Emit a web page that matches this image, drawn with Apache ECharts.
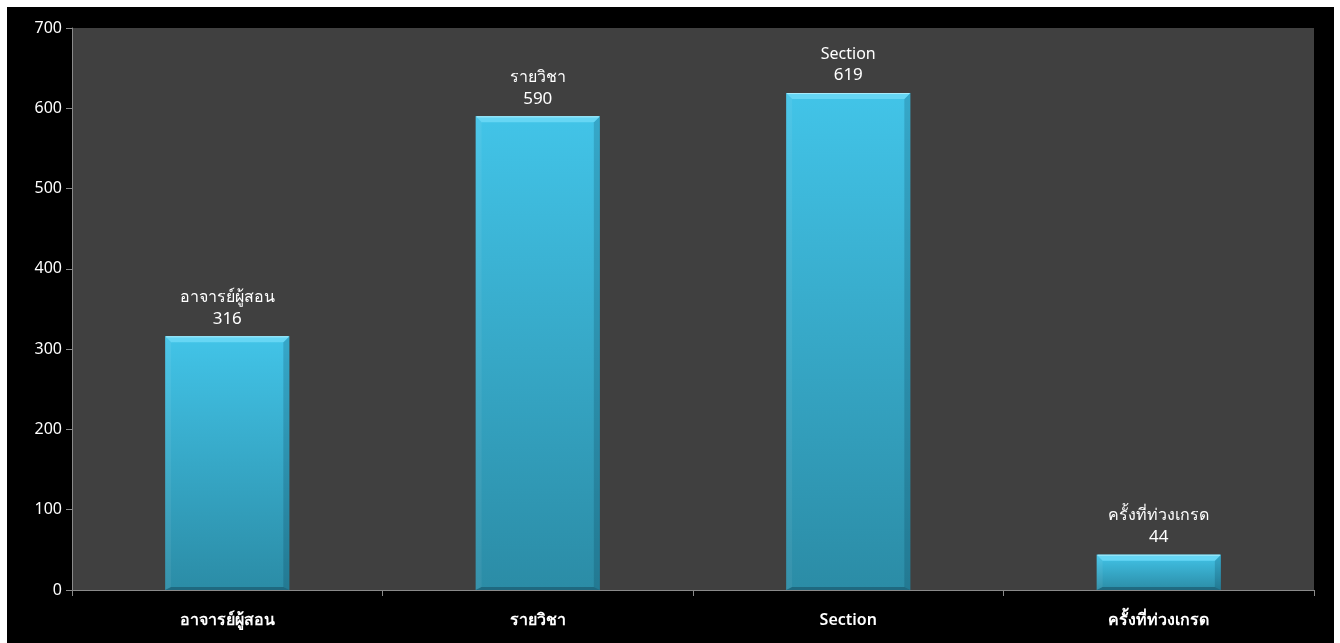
<!DOCTYPE html>
<html><head><meta charset="utf-8">
<script src="https://cdn.jsdelivr.net/npm/echarts@6/dist/echarts.min.js"></script>
<style>
html,body{margin:0;padding:0;background:#fff;width:1340px;height:643px;overflow:hidden}
#c{position:absolute;left:7px;top:7px;width:1327px;height:636px;background:#000}
</style></head><body><div id="c"></div>
<script>
const categories = ['อาจารย์ผู้สอน', 'รายวิชา', 'Section', 'ครั้งที่ท่วงเกรด'];
const values = [316, 590, 619, 44];
const yTicks = [0, 100, 200, 300, 400, 500, 600, 700];

const FONT = '"Noto Sans", "DejaVu Sans", sans-serif';
const chart = echarts.init(document.getElementById('c'));
chart.setOption({
  backgroundColor: '#000',
  animation: false,
  grid: {left: 65, right: 20, top: 21, bottom: 53, show: true, backgroundColor: '#404040', borderWidth: 0},
  xAxis: {
    type: 'category', data: categories,
    axisLine: {lineStyle: {color: '#8a8a8a', width: 1}},
    axisTick: {show: true, length: 6, lineStyle: {color: '#8a8a8a'}},
    axisLabel: {color: '#fff', fontSize: 16, fontFamily: FONT, margin: 22, fontWeight: 600}
  },
  yAxis: {
    type: 'value', min: yTicks[0], max: yTicks[yTicks.length - 1], interval: 100,
    axisLine: {show: true, lineStyle: {color: '#8a8a8a'}},
    axisTick: {show: true, length: 6, lineStyle: {color: '#8a8a8a'}},
    splitLine: {show: false},
    axisLabel: {color: '#fff', fontSize: 16, fontFamily: FONT, margin: 10}
  },
  series: [{
    type: 'custom',
    data: values.map((v, i) => [i, v]),
    renderItem: function (params, api) {
      const i = api.value(0), v = api.value(1);
      const top = api.coord([i, v]);
      const base = api.coord([i, 0]);
      const w = api.size([1, 0])[0] * 0.4;
      const x0 = top[0] - w / 2, x1 = top[0] + w / 2, y0 = top[1], y1 = base[1];
      const b = 6;
      return {
        type: 'group',
        children: [
          {type: 'rect', shape: {x: x0, y: y0, width: w, height: y1 - y0},
            style: {fill: new echarts.graphic.LinearGradient(0, 0, 0, 1, [
              {offset: 0, color: '#42c4e8'}, {offset: 1, color: '#2b8ca6'}])}},
          {type: 'polygon', shape: {points: [[x0, y1], [x0 + b, y1 - 3], [x1 - b, y1 - 3], [x1, y1]]},
            style: {fill: 'rgba(20,70,90,0.5)'}},
          {type: 'polygon', shape: {points: [[x0, y0], [x0 + b, y0 + b], [x0 + b, y1 - 3], [x0, y1]]},
            style: {fill: 'rgba(255,255,255,0.06)'}},
          {type: 'polygon', shape: {points: [[x1, y0], [x1 - b, y0 + b], [x1 - b, y1 - 3], [x1, y1]]},
            style: {fill: 'rgba(0,40,60,0.18)'}},
          {type: 'polygon', shape: {points: [[x0, y0], [x1, y0], [x1 - b, y0 + b], [x0 + b, y0 + b]]},
            style: {fill: '#66d6f4'}},
          {type: 'line', shape: {x1: x0 + 1, y1: y0 + 0.5, x2: x1 - 1, y2: y0 + 0.5},
            style: {stroke: '#a9ecfb', lineWidth: 1}},
          {type: 'text', style: {text: '{n|' + categories[i] + '}\n{v|' + v + '}', x: top[0], y: y0 - 7,
            align: 'center', verticalAlign: 'bottom', fill: '#fff', fontFamily: FONT,
            rich: {n: {fontSize: 16, lineHeight: 22, fill: '#fff', fontFamily: FONT, align: 'center'},
                   v: {fontSize: 17, lineHeight: 21, fill: '#fff', fontFamily: FONT, align: 'center'}}}}
        ]
      };
    }
  }]
});
</script></body></html>
